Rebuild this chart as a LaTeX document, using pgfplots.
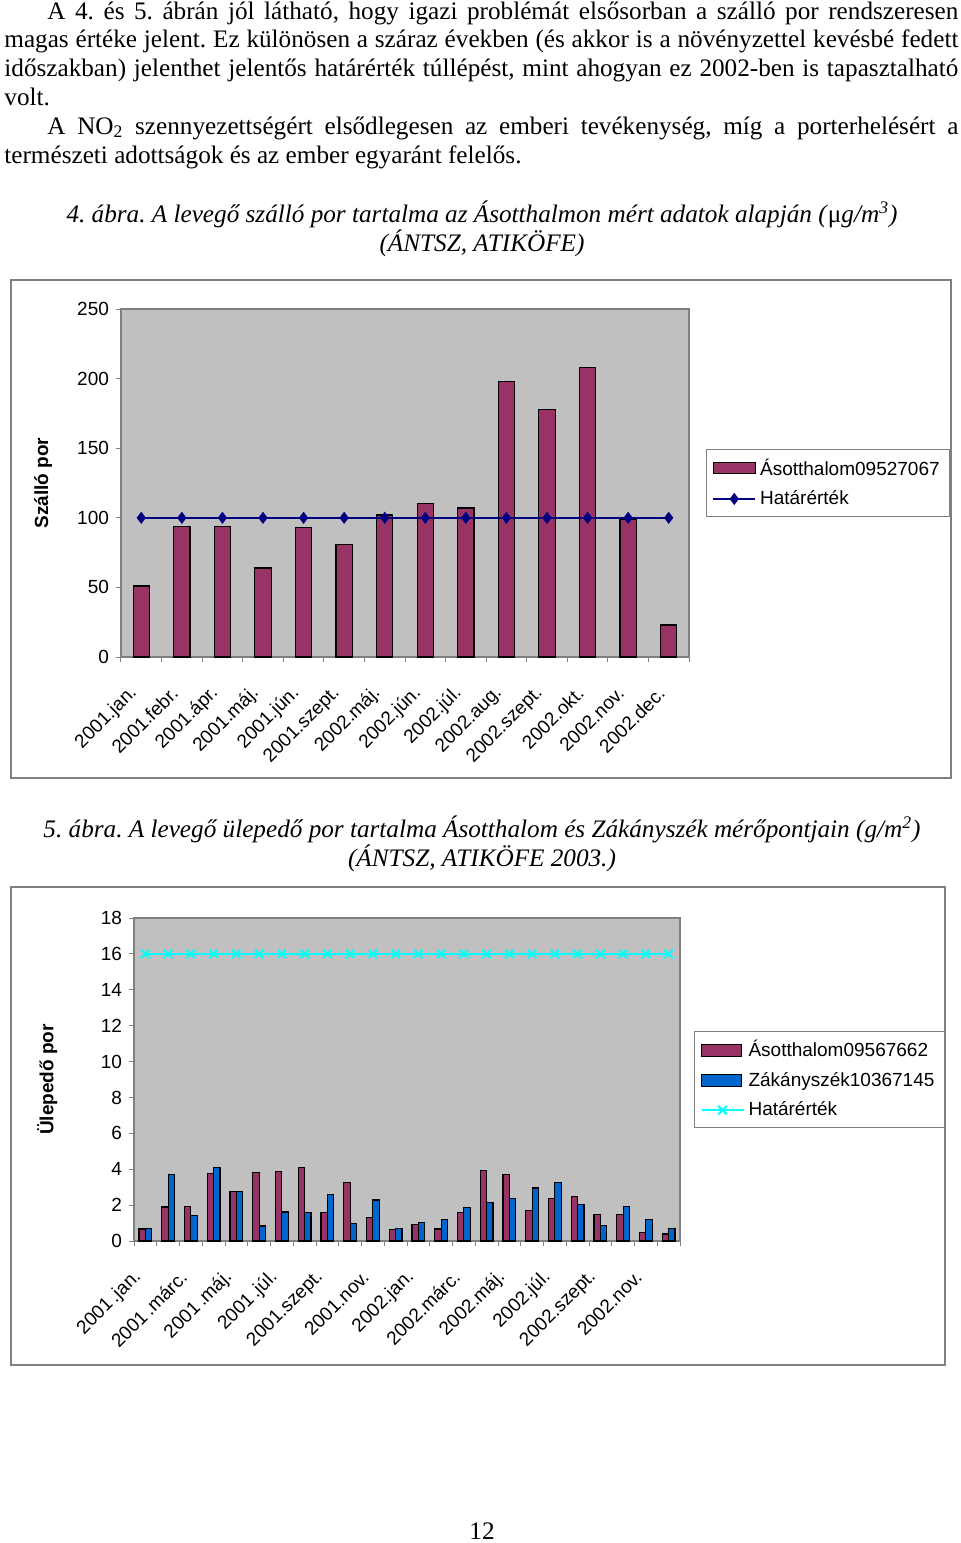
\documentclass[border=0pt]{standalone}
\usepackage{fontspec}
\setmainfont{Liberation Serif}
\newfontfamily\chartfont{Liberation Sans}
\usepackage{pgfplots}
\pgfplotsset{compat=1.18}
\definecolor{plotgray}{HTML}{C0C0C0}
\definecolor{barplum}{HTML}{993366}
\definecolor{barblue}{HTML}{0066CC}
\definecolor{framegray}{HTML}{808080}
\definecolor{navyline}{HTML}{000080}
\definecolor{cyanline}{HTML}{00FFFF}
\newcommand{\cf}{\chartfont\fontsize{9.5}{11}\selectfont}
\newcommand{\bt}{\fontsize{12.6}{14}\selectfont\frenchspacing}
\pgfplotsset{
  excel/.style={
    scale only axis, anchor=south west,
    /pgf/number format/assume math mode=true,
    tick align=outside, xtick pos=bottom, ytick pos=left,
    major tick length=2.5pt, minor tick length=2.5pt,
    tick style={framegray, line width=0.5pt},
    major x tick style={draw=none},
    axis line style={framegray, line width=0.6pt},
    axis background/.style={fill=plotgray},
    tick label style={font=\cf},
    xticklabel style={xshift=-3.5pt, rotate=45, anchor=east, inner sep=0pt},
    xticklabel shift=14pt,
    legend style={anchor=west, draw=framegray, line width=0.5pt, fill=white, font=\cf,
      inner xsep=3pt, inner ysep=2.5pt, row sep=2.2pt, legend cell align=left},
  },
  barlegA/.style={legend image code/.code={\draw[##1] (0pt,-2.75pt) rectangle (21pt,2.75pt);}},
  barlegB/.style={legend image code/.code={\draw[##1] (0pt,-3pt) rectangle (20pt,3pt);}},
  lineleg/.style={legend image code/.code={\draw[##1] (0pt,0pt) -- (21pt,0pt); \draw[##1] plot coordinates {(10.5pt,0pt)};}},
}
\begin{document}
\begin{tikzpicture}
\begin{scope}[x=0.5pt,y=-0.5pt]
\path (0,0) rectangle (960,1543);
\node[anchor=base west, inner sep=0] at (47,19) {\bt\makebox[455.5pt][s]{A 4. és 5. ábrán jól látható, hogy igazi problémát elsősorban a szálló por rendszeresen}};
\node[anchor=base west, inner sep=0] at (4,47) {\bt\makebox[477pt][s]{magas értéke jelent. Ez különösen a száraz években (és akkor is a növényzettel kevésbé fedett}};
\node[anchor=base west, inner sep=0] at (4,76) {\bt\makebox[477pt][s]{időszakban) jelenthet jelentős határérték túllépést, mint ahogyan ez 2002-ben is tapasztalható}};
\node[anchor=base west, inner sep=0] at (4,105) {\bt volt.};
\node[anchor=base west, inner sep=0] at (47,134) {\bt\makebox[455.5pt][s]{A NO\textsubscript{2} szennyezettségért elsődlegesen az emberi tevékenység, míg a porterhelésért a}};
\node[anchor=base west, inner sep=0] at (4,163) {\bt természeti adottságok és az ember egyaránt felelős.};
\node[anchor=base, inner sep=0] at (482,222) {\bt\itshape 4. ábra. A levegő szálló por tartalma az Ásotthalmon mért adatok alapján (\textup{μ}g/m\textsuperscript{3})};
\node[anchor=base, inner sep=0] at (482,251) {\bt\itshape (ÁNTSZ, ATIKÖFE)};
\node[anchor=base, inner sep=0] at (482,837) {\bt\itshape 5. ábra. A levegő ülepedő por tartalma Ásotthalom és Zákányszék mérőpontjain (g/m\textsuperscript{2})};
\node[anchor=base, inner sep=0] at (482,866) {\bt\itshape (ÁNTSZ, ATIKÖFE 2003.)};
\node[anchor=base, inner sep=0] at (482,1539) {\bt 12};
\draw[framegray, line width=0.6pt] (11,280) rectangle (951,778);
\draw[framegray, line width=0.6pt] (11,887) rectangle (945,1365);
\end{scope}

\begin{axis}[excel,
  at={(60.5pt,-328.5pt)}, width=284pt, height=174pt,
  xmin=-0.5, xmax=13.5, ymin=0, ymax=250,
  ytick={0,50,100,150,200,250},
  xtick={0,...,13},
  xticklabels={2001.jan.,2001.febr.,2001.ápr.,2001.máj.,2001.jún.,2001.szept.,2002.máj.,2002.jún.,2002.júl.,2002.aug.,2002.szept.,2002.okt.,2002.nov.,2002.dec.},
  minor xtick={-0.5,0.5,...,13.5},
  ylabel={Szálló por},
  every axis y label/.style={at={(rel axis cs:-0.137,0.5)}, rotate=90, anchor=center, font=\chartfont\bfseries\fontsize{9.5}{11}\selectfont},
  legend style={at={(1.0299,0.5)}},
]
\addplot[ybar, bar width=0.4, bar shift=0, fill=barplum, draw=black, line width=0.6pt, barlegA]
  coordinates {(0,51) (1,94) (2,94) (3,64) (4,93) (5,81) (6,102) (7,110) (8,107) (9,198) (10,178) (11,208) (12,99) (13,23)};
\addlegendentry{Ásotthalom09527067}
\addplot[navyline, line width=0.8pt, mark=diamond*, mark size=2.4pt, mark options={fill=navyline, draw=navyline}, lineleg]
  coordinates {(0,100) (1,100) (2,100) (3,100) (4,100) (5,100) (6,100) (7,100) (8,100) (9,100) (10,100) (11,100) (12,100) (13,100)};
\addlegendentry{Határérték}
\end{axis}

\begin{axis}[excel,
  at={(67pt,-620.5pt)}, width=273pt, height=161.5pt,
  xmin=-0.5, xmax=23.5, ymin=0, ymax=18,
  ytick={0,2,...,18},
  xtick={0,2,...,22},
  xticklabels={2001\,.jan.,2001\,.márc.,2001\,.máj.,2001\,.júl.,2001.szept.,2001.nov.,2002.jan.,2002.márc.,2002.máj.,2002.júl.,2002.szept.,2002.nov.},
  minor xtick={-0.5,0.5,...,23.5},
  ylabel={Ülepedő por},
  every axis y label/.style={at={(rel axis cs:-0.159,0.5)}, rotate=90, anchor=center, font=\chartfont\bfseries\fontsize{9.5}{11}\selectfont},
  legend style={at={(1.0257,0.5)}},
]
\addplot[ybar, bar width=0.28, bar shift=-0.14, fill=barplum, draw=black, line width=0.6pt, barlegB]
  coordinates {(0,0.67) (1,1.9) (2,1.94) (3,3.75) (4,2.78) (5,3.84) (6,3.88) (7,4.09) (8,1.59) (9,3.28) (10,1.29) (11,0.62) (12,0.9) (13,0.67) (14,1.59) (15,3.94) (16,3.69) (17,1.70) (18,2.39) (19,2.5) (20,1.49) (21,1.49) (22,0.49) (23,0.39)};
\addlegendentry{Ásotthalom09567662}
\addplot[ybar, bar width=0.28, bar shift=0.14, fill=barblue, draw=black, line width=0.6pt, barlegB]
  coordinates {(0,0.71) (1,3.7) (2,1.4) (3,4.09) (4,2.74) (5,0.84) (6,1.62) (7,1.57) (8,2.59) (9,0.99) (10,2.29) (11,0.71) (12,1.03) (13,1.18) (14,1.88) (15,2.13) (16,2.39) (17,2.95) (18,3.25) (19,2.05) (20,0.88) (21,1.94) (22,1.21) (23,0.71)};
\addlegendentry{Zákányszék10367145}
\addplot[cyanline, line width=1pt, mark=x, mark size=3pt, mark options={cyanline, line width=1pt}, lineleg]
  coordinates {(0,16) (1,16) (2,16) (3,16) (4,16) (5,16) (6,16) (7,16) (8,16) (9,16) (10,16) (11,16) (12,16) (13,16) (14,16) (15,16) (16,16) (17,16) (18,16) (19,16) (20,16) (21,16) (22,16) (23,16)};
\addlegendentry{Határérték}
\end{axis}
\end{tikzpicture}
\end{document}
